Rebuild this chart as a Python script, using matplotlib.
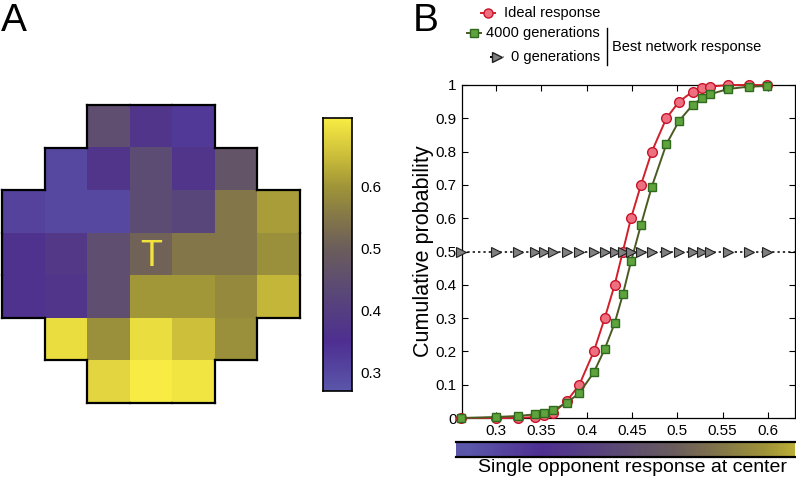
import numpy as np
import matplotlib
matplotlib.use('Agg')
import matplotlib.pyplot as plt
from matplotlib.colors import LinearSegmentedColormap, Normalize
from matplotlib.lines import Line2D
from matplotlib.collections import LineCollection

plt.rcParams['font.family'] = ['Liberation Sans', 'DejaVu Sans']

nan = np.nan
# panel A: single opponent response per cell (NaN = outside receptive field)
heat = np.array([
    [nan, nan, 0.45, 0.37, 0.33, nan, nan],
    [nan, 0.30, 0.37, 0.44, 0.37, 0.47, nan],
    [0.31, 0.30, 0.30, 0.44, 0.42, 0.55, 0.61],
    [0.36, 0.38, 0.45, 0.51, 0.55, 0.55, 0.59],
    [0.36, 0.37, 0.45, 0.60, 0.60, 0.58, 0.64],
    [nan, 0.69, 0.59, 0.69, 0.65, 0.59, nan],
    [nan, nan, 0.68, 0.71, 0.70, nan, nan],
])
cbar_ticks = [0.3, 0.4, 0.5, 0.6]

# panel B: cumulative probability curves
xs = [0.261, 0.300, 0.324, 0.343, 0.353, 0.363, 0.378, 0.392, 0.408, 0.420,
      0.431, 0.440, 0.449, 0.460, 0.472, 0.488, 0.502, 0.517, 0.527, 0.536,
      0.556, 0.579, 0.599]
ideal = [0, 0, 0, 0.003, 0.01, 0.015, 0.05, 0.1, 0.2, 0.3,
         0.4, 0.5, 0.6, 0.7, 0.8, 0.9, 0.95, 0.98, 0.99, 0.995,
         1.0, 1.0, 1.0]
gen4000 = [0, 0.003, 0.006, 0.011, 0.016, 0.024, 0.045, 0.075, 0.137, 0.207,
           0.285, 0.371, 0.47, 0.58, 0.695, 0.822, 0.892, 0.94, 0.96, 0.972,
           0.988, 0.995, 0.997]
gen0 = [0.5, 0.5, 0.5, 0.5, 0.5, 0.5, 0.5, 0.5, 0.5, 0.5,
        0.5, 0.5, 0.5, 0.5, 0.5, 0.5, 0.5, 0.5, 0.5, 0.5,
        0.5, 0.5, 0.5]
xticks = [0.3, 0.35, 0.4, 0.45, 0.5, 0.55, 0.6]
yticks = [0, 0.1, 0.2, 0.3, 0.4, 0.5, 0.6, 0.7, 0.8, 0.9, 1.0]

vmin, vmax = 0.27, 0.71
cmap = LinearSegmentedColormap.from_list('bluyel', [
    (0.0, '#5b57aa'), (0.18, '#4e2f92'), (0.36, '#5a4878'),
    (0.52, '#6b5d5c'), (0.64, '#857848'), (0.75, '#a09538'),
    (0.86, '#cbbd3a'), (1.0, '#f8ec44')])
norm = Normalize(vmin, vmax)

W, H = 796, 484
fig = plt.figure(figsize=(W / 100, H / 100), dpi=100)


def box(x0, y0, x1, y1):
    return [x0 / W, 1 - y1 / H, (x1 - x0) / W, (y1 - y0) / H]


def fx(x):
    return x / W


def fy(y):
    return 1 - y / H


# ---- panel A ----
axA = fig.add_axes(box(2, 105, 300, 403))
axA.imshow(np.ma.masked_invalid(heat), cmap=cmap, norm=norm,
           interpolation='nearest', aspect='auto')
axA.axis('off')
n = heat.shape[0]


def outside(rr, cc):
    return rr < 0 or cc < 0 or rr >= n or cc >= n or np.isnan(heat[rr, cc])


segs = []
for r in range(n):
    for c in range(n):
        if np.isnan(heat[r, c]):
            continue
        if outside(r - 1, c):
            segs.append([(c - 0.5, r - 0.5), (c + 0.5, r - 0.5)])
        if outside(r + 1, c):
            segs.append([(c - 0.5, r + 0.5), (c + 0.5, r + 0.5)])
        if outside(r, c - 1):
            segs.append([(c - 0.5, r - 0.5), (c - 0.5, r + 0.5)])
        if outside(r, c + 1):
            segs.append([(c + 0.5, r - 0.5), (c + 0.5, r + 0.5)])
axA.add_collection(LineCollection(segs, colors='k', linewidths=1.6,
                                  capstyle='projecting', clip_on=False))
axA.set_xlim(-0.5, n - 0.5)
axA.set_ylim(n - 0.5, -0.5)
axA.text(3, 3.05, 'T', color='#f2e23c', fontsize=26, ha='center', va='center')

caxA = fig.add_axes(box(323, 118, 352, 391))
grad = np.linspace(vmin, vmax, 256).reshape(-1, 1)
caxA.imshow(grad, cmap=cmap, norm=norm, aspect='auto', origin='lower',
            extent=[0, 1, vmin, vmax])
caxA.set_xticks([])
caxA.yaxis.tick_right()
caxA.set_yticks(cbar_ticks)
caxA.set_yticklabels([str(t) for t in cbar_ticks])
caxA.tick_params(axis='y', length=0, labelsize=11, pad=6)
for s in caxA.spines.values():
    s.set_linewidth(1.2)

fig.text(fx(1), fy(21), 'A', fontsize=28, va='center', ha='left')

# ---- panel B ----
axB = fig.add_axes(box(462, 85, 795, 418))
axB.axhline(0.5, color='k', ls=(0, (1.5, 2)), lw=1.1, zorder=2)
axB.plot(xs, ideal, '-o', color='#d21f2c', mfc='#ee7080', mec='#c8142a',
         ms=7, mew=1, lw=1.4, clip_on=False, zorder=3)
axB.plot(xs, gen4000, '-s', color='#4a5a22', mfc='#5ea33c', mec='#2f6a1e',
         ms=5.5, mew=1, lw=1.4, clip_on=False, zorder=4)
axB.plot(xs, gen0, ls='none', marker='>', mfc='#808080', mec='#202020',
         ms=7.5, mew=0.8, clip_on=False, zorder=5)
axB.set_xlim(0.2625, 0.63)
axB.set_ylim(0, 1)
axB.set_xticks(xticks)
axB.set_xticklabels(['%g' % t for t in xticks])
axB.set_yticks(yticks)
axB.set_yticklabels(['%g' % t for t in yticks])
axB.tick_params(direction='in', top=True, right=True, length=4,
                labelsize=11, pad=4)
for s in axB.spines.values():
    s.set_linewidth(0.9)
axB.set_ylabel('Cumulative probability', fontsize=15.5, labelpad=1)

# horizontal colour bar under panel B
caxB = fig.add_axes(box(456, 442, 795, 457))
hgrad = np.linspace(0.2559, 0.63, 256).reshape(1, -1)
caxB.imshow(hgrad, cmap=cmap, norm=norm, aspect='auto',
            extent=[0.2559, 0.63, 0, 1])
caxB.set_xticks([])
caxB.set_yticks([])
caxB.spines['left'].set_visible(False)
caxB.spines['right'].set_visible(False)
caxB.spines['top'].set_linewidth(1.6)
caxB.spines['bottom'].set_linewidth(1.6)
fig.text(fx(787), fy(468), 'Single opponent response at center',
         fontsize=14, ha='right', va='center')

fig.text(fx(413), fy(21), 'B', fontsize=28, va='center', ha='left')

# legend (drawn by hand, right aligned text)
leg_items = [
    ('Ideal response', 13, 488, dict(marker='o', color='#d21f2c', mfc='#ee7080',
                                     mec='#c8142a', ms=6.5, ls='-')),
    ('4000 generations', 33, 474, dict(marker='s', color='#4a5a22', mfc='#5ea33c',
                                       mec='#2f6a1e', ms=5.5, ls='-')),
    ('0 generations', 57, 497, dict(marker='>', color='k', mfc='#808080',
                                    mec='#202020', ms=7, ls=(0, (1.5, 2)))),
]
for label, y, xm, style in leg_items:
    fig.text(fx(600), fy(y), label, fontsize=10.5, ha='right', va='center')
    fig.add_artist(Line2D([fx(xm - 7), fx(xm), fx(xm + 7)],
                          [fy(y), fy(y), fy(y)],
                          lw=1.4, markevery=[1], **style))
fig.add_artist(Line2D([fx(607), fx(607)], [fy(28), fy(65)], color='k', lw=1))
fig.text(fx(612), fy(47), 'Best network response', fontsize=10.5,
         ha='left', va='center')

fig.savefig('out.png', dpi=100)
